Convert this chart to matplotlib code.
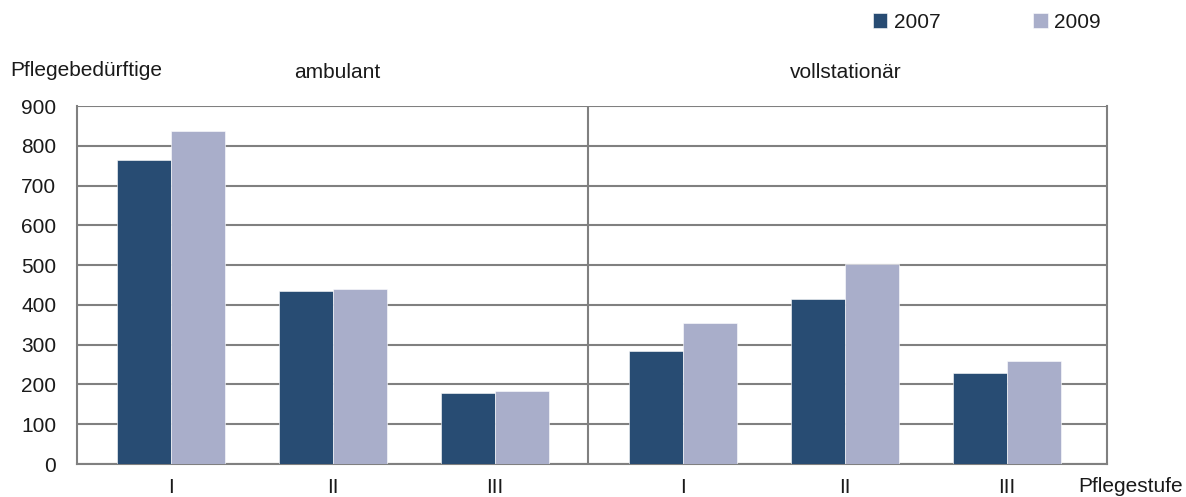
import matplotlib
matplotlib.use("Agg")
import matplotlib.pyplot as plt
import numpy as np

plt.rcParams['font.family'] = ['Liberation Sans', 'DejaVu Sans']

# Pflegebedürftige nach Pflegestufe, ambulant und vollstationär
stufen = ["I", "II", "III", "I", "II", "III"]
werte_2007 = [763, 435, 178, 284, 415, 229]
werte_2009 = [838, 440, 183, 355, 502, 259]
jahre = ["2007", "2009"]
yticks = [0, 100, 200, 300, 400, 500, 600, 700, 800, 900]

farbe_2007 = "#284C73"
farbe_2009 = "#A9AECA"
gitter = "#808080"
text = "#1a1a1a"
fs = 15

# category centres: two groups of three, with a wider gap between groups
pos = np.array([0, 1, 2, 3.16, 4.16, 5.16])
breite = 0.333

fig = plt.figure(figsize=(11.86, 4.97), dpi=100)
ax = fig.add_axes([77 / 1186, 1 - 464 / 497, (1107 - 77) / 1186, (464 - 106) / 497])

ax.bar(pos - breite / 2, werte_2007, width=breite, color=farbe_2007,
       edgecolor="white", linewidth=0.4, zorder=3, label=jahre[0])
ax.bar(pos + breite / 2, werte_2009, width=breite, color=farbe_2009,
       edgecolor="white", linewidth=0.4, zorder=3, label=jahre[1])

ax.set_xlim(-0.58, 5.78)
ax.set_ylim(0, 900)
ax.set_yticks(yticks)
ax.set_yticklabels([str(v) for v in yticks], fontsize=fs, color=text)
ax.yaxis.grid(True, color=gitter, linewidth=1.5, zorder=0)
ax.tick_params(axis="y", length=0, pad=15)
ax.tick_params(axis="x", length=0, pad=10)
ax.set_xticks(pos)
ax.set_xticklabels(stufen, fontsize=fs, color=text)

for side in ["left", "right", "bottom", "top"]:
    ax.spines[side].set_color(gitter)
    ax.spines[side].set_linewidth(1.5)
ax.spines["top"].set_visible(False)

# divider between ambulant and vollstationär
ax.axvline(2.574, color=gitter, linewidth=1.5, zorder=1)

fig.text(10 / 1186, 1 - 70 / 497, "Pflegebedürftige", fontsize=fs,
         color=text, va="center", ha="left")
fig.text(337 / 1186, 1 - 72 / 497, "ambulant", fontsize=fs,
         color=text, va="center", ha="center")
fig.text(846 / 1186, 1 - 72 / 497, "vollstationär", fontsize=fs,
         color=text, va="center", ha="center")
fig.text(1078 / 1186, 1 - 486 / 497, "Pflegestufe", fontsize=fs,
         color=text, va="center", ha="left")

leg = fig.legend(loc="center left", bbox_to_anchor=(854 / 1186, 1 - 22 / 497),
                 ncol=2, frameon=False, fontsize=fs, handlelength=0.7,
                 handleheight=0.7, handletextpad=0.3, columnspacing=4.45,
                 labelcolor=text)

fig.savefig("out.png", dpi=100)
